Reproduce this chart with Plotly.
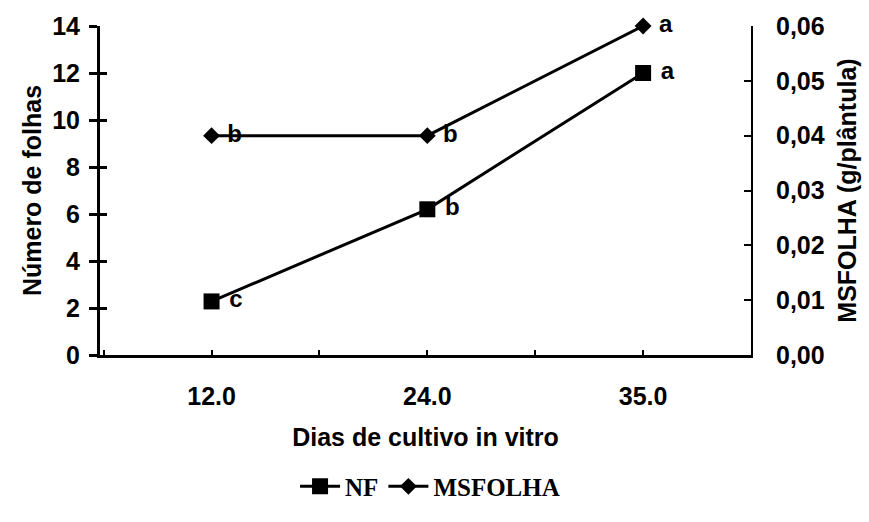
import plotly.graph_objects as go

days = ["12.0", "24.0", "35.0"]
nf = [2.28, 6.2, 12.0]
msfolha = [0.040, 0.040, 0.060]
nf_letters = ["c", "b", "a"]
ms_letters = ["b", "b", "a"]
y_left_ticks = [0, 2, 4, 6, 8, 10, 12, 14]
y_right_ticks = [0.00, 0.01, 0.02, 0.03, 0.04, 0.05, 0.06]

xpos = list(range(len(days)))
sans = "Liberation Sans, Arial, sans-serif"
serif = "Liberation Serif, Times New Roman, serif"

letterfont = dict(family=sans, size=24, color="black", weight="bold")

fig = go.Figure()
fig.add_trace(go.Scatter(
    x=xpos, y=nf, name="NF", mode="lines+markers+text",
    text=nf_letters, texttemplate=" %{text}", textposition="middle right",
    textfont=letterfont,
    line=dict(color="black", width=3),
    marker=dict(symbol="square", size=16, color="black"),
    cliponaxis=False, yaxis="y", hoverinfo="skip",
))
fig.add_trace(go.Scatter(
    x=xpos, y=msfolha, name="MSFOLHA", mode="lines+markers+text",
    text=ms_letters, texttemplate=" %{text}", textposition="middle right",
    textfont=letterfont,
    line=dict(color="black", width=3),
    marker=dict(symbol="diamond", size=13, color="black"),
    cliponaxis=False, yaxis="y2", hoverinfo="skip",
))
# invisible helper trace to display inner half of the crossing ticks on left axis
fig.add_trace(go.Scatter(
    x=xpos, y=nf, mode="markers", marker=dict(opacity=0),
    showlegend=False, yaxis="y3", hoverinfo="skip",
))

tickfont = dict(family=sans, size=25, color="black", weight="bold")
titlefont = dict(family=sans, size=25, color="black", weight="bold")

fig.update_layout(
    width=869, height=522,
    margin=dict(l=100, r=116, t=25, b=165),
    paper_bgcolor="white", plot_bgcolor="white",
    separators=",.",
    showlegend=True,
    legend=dict(orientation="h", x=0.507, xanchor="center", y=-0.40, yanchor="middle",
                font=dict(family=serif, size=25, color="black", weight="bold"),
                itemwidth=40, traceorder="normal"),
    xaxis=dict(
        range=[-0.517, 2.5], tickmode="array", tickvals=xpos, ticktext=days,
        ticks="inside", ticklen=5, tickwidth=2, tickcolor="black",
        minor=dict(ticks="inside", dtick=0.5, tick0=0, ticklen=5, tickwidth=2, tickcolor="black"),
        showline=True, linewidth=3, linecolor="black",
        showgrid=False, zeroline=False, tickfont=tickfont, ticklabelstandoff=17,
        title=dict(text="Dias de cultivo in vitro", font=titlefont, standoff=20),
    ),
    yaxis=dict(
        range=[0, 14], tickmode="array", tickvals=y_left_ticks,
        ticks="outside", ticklen=8, tickwidth=3, tickcolor="black",
        showline=True, linewidth=3, linecolor="black",
        showgrid=False, zeroline=False, tickfont=tickfont, ticklabelstandoff=4,
        title=dict(text="Número de folhas", font=titlefont, standoff=4),
    ),
    yaxis3=dict(
        range=[0, 14], overlaying="y", anchor="x", side="left",
        tickmode="array", tickvals=y_left_ticks,
        ticks="inside", ticklen=7, tickwidth=3, tickcolor="black",
        showticklabels=False, showline=False, showgrid=False, zeroline=False,
    ),
    yaxis2=dict(
        range=[0, 0.06], overlaying="y", side="right", anchor="x",
        tickmode="array", tickvals=y_right_ticks, tickformat=".2f",
        ticks="inside", ticklen=7, tickwidth=2, tickcolor="black",
        showline=True, linewidth=2, linecolor="black",
        showgrid=False, zeroline=False, tickfont=tickfont, ticklabelstandoff=18,
        title=dict(text="MSFOLHA (g/plântula)", font=titlefont, standoff=15),
    ),
)

fig.write_html("out.html")
